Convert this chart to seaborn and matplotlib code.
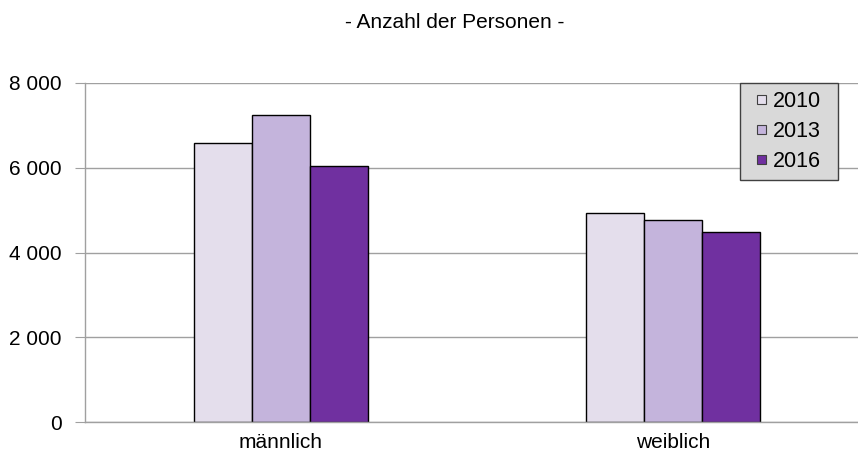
import matplotlib
matplotlib.use("Agg")
import matplotlib.pyplot as plt
import seaborn as sns
import pandas as pd
from matplotlib.patches import Rectangle
from matplotlib.legend_handler import HandlerPatch
from matplotlib.ticker import FuncFormatter

# Data
categories = ["männlich", "weiblich"]
years = ["2010", "2013", "2016"]
values_2010 = [6580, 4940]
values_2013 = [7240, 4770]
values_2016 = [6050, 4490]
colors = ["#E4DEEC", "#C4B4DC", "#7030A0"]

df = pd.DataFrame({
    "Geschlecht": categories * 3,
    "Jahr": [y for y in years for _ in categories],
    "Anzahl": values_2010 + values_2013 + values_2016,
})

sns.set_style("white")
plt.rcParams["font.family"] = ["Liberation Sans", "DejaVu Sans"]
plt.rcParams["text.color"] = "black"
plt.rcParams["xtick.color"] = "black"
plt.rcParams["ytick.color"] = "black"

fig = plt.figure(figsize=(8.58, 4.57), dpi=100)
ax = fig.add_axes([85 / 858, 1 - 422 / 457, 784 / 858, 339 / 457])

sns.barplot(data=df, x="Geschlecht", y="Anzahl", hue="Jahr", palette=colors,
            width=0.444, edgecolor="black", linewidth=1.0, ax=ax, saturation=1)

ax.set_ylim(0, 8000)
ax.set_yticks([0, 2000, 4000, 6000, 8000])
ax.yaxis.set_major_formatter(FuncFormatter(lambda v, p: f"{v:,.0f}".replace(",", " ")))
ax.set_xlim(-0.5, 1.5)
ax.set_xticks([0.5], minor=True)
ax.tick_params(axis="x", which="major", length=0, labelsize=15, pad=8)
ax.tick_params(axis="x", which="minor", length=6, color="#808080", width=1)
ax.tick_params(axis="y", length=7, color="#A0A0A0", labelcolor="black",
               labelsize=15, pad=10, left=True)
ax.set_xlabel("")
ax.set_ylabel("")
ax.yaxis.grid(True, color="#A0A0A0", linewidth=1)
ax.set_axisbelow(True)
for side in ["top", "right"]:
    ax.spines[side].set_visible(False)
for side in ["left", "bottom"]:
    ax.spines[side].set_color("#A0A0A0")
    ax.spines[side].set_linewidth(1)


# small square legend key, placed at the right end of the handle box
def small_square(legend, orig_handle, xdescent, ydescent, width, height, fontsize):
    s = 9 * 72 / fig.dpi
    return Rectangle((-xdescent + width - s, -ydescent + (height - s) / 2), s, s)


handles, labels = ax.get_legend_handles_labels()
leg = ax.legend(handles, labels, loc="upper left",
                bbox_to_anchor=(740 / 858, 1 - 180 / 457, 98 / 858, 97 / 457),
                bbox_transform=fig.transFigure, mode="expand", fontsize=15.5,
                frameon=True, fancybox=False, handlelength=0.84, handleheight=0.7,
                handletextpad=0.33, labelspacing=0.43, borderpad=0.37,
                borderaxespad=0,
                handler_map={h: HandlerPatch(patch_func=small_square) for h in handles})
leg.get_frame().set_facecolor("#D9D9D9")
leg.get_frame().set_edgecolor("#404040")
leg.get_frame().set_linewidth(1)
leg.get_frame().set_alpha(1)
for h in leg.legend_handles:
    h.set_edgecolor("#404040")
    h.set_linewidth(0.8)

fig.text(455 / 858, 1 - 23 / 457, "- Anzahl der Personen -", ha="center",
         va="center", fontsize=15)

fig.savefig("out.png", dpi=100)
